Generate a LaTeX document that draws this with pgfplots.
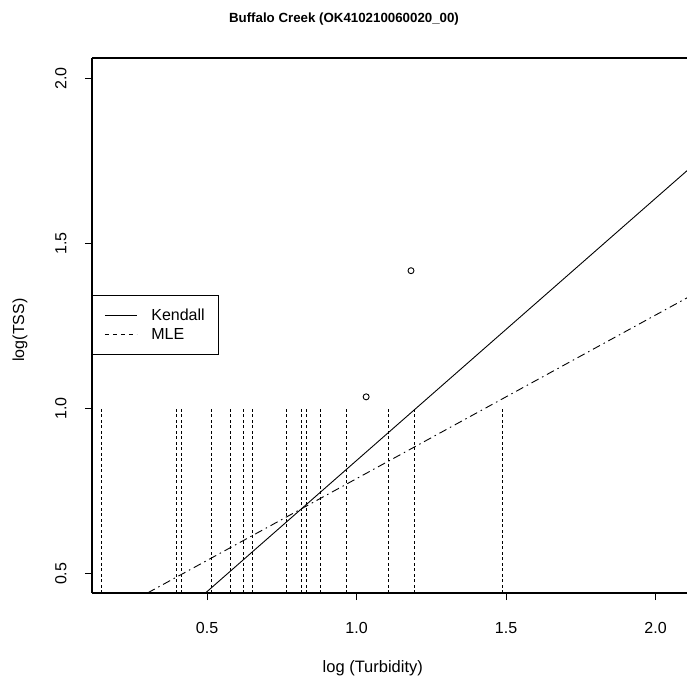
\documentclass[border=0pt]{standalone}
\usepackage{fontspec}
\setmainfont{Liberation Sans}
\usepackage{pgfplots}
\pgfplotsset{compat=1.18}

% censored values, drawn as dotted verticals up to log(TSS)=1
\pgfplotstableread{
x y
0.148 1.0
0.399 1.0
0.415 1.0
0.516 1.0
0.579 1.0
0.621 1.0
0.653 1.0
0.767 1.0
0.814 1.0
0.833 1.0
0.878 1.0
0.965 1.0
1.106 1.0
1.194 1.0
1.488 1.0
}\censored

\begin{document}
\begin{tikzpicture}
\useasboundingbox (-92pt,-88pt) rectangle (595pt,593pt);
\begin{axis}[
    scale only axis,
    width=600pt, height=535pt,
    xmin=0.115, xmax=2.122,
    ymin=0.442, ymax=2.062,
    axis x line*=bottom, axis y line*=left,
    axis line style={line width=1.1pt},
    every outer x axis line/.append style={-},
    every outer y axis line/.append style={-},
    xtick={0.5,1.0,1.5,2.0}, ytick={0.5,1.0,1.5,2.0},
    xticklabels={0.5,1.0,1.5,2.0}, yticklabels={0.5,1.0,1.5,2.0},
    tick align=outside, major tick length=7pt,
    tick style={line width=1pt, black},
    /pgf/number format/assume math mode=true,
    tick label style={font=\fontsize{16}{16}\selectfont},
    xticklabel style={yshift=-19pt},
    yticklabel style={rotate=90, anchor=south, yshift=15pt},
    title={Buffalo Creek (OK410210060020\_00)},
    title style={font=\fontsize{13.3}{13.3}\selectfont\bfseries, at={(axis description cs:0.42,1.062)}, anchor=center},
    xlabel={log (Turbidity)},
    xlabel style={font=\fontsize{16.5}{16.5}\selectfont, at={(axis description cs:0.468,-0.140)}, anchor=center},
    ylabel={log(TSS)},
    ylabel style={font=\fontsize{16}{16}\selectfont, at={(axis description cs:-0.12,0.4916)}, anchor=center, rotate=0},
    clip=true,
    legend style={at={(axis description cs:0,0.557)}, anchor=north west,
        draw=black, line width=0.9pt, font=\fontsize{16}{16}\selectfont,
        inner xsep=12pt, inner ysep=11pt, row sep=3pt},
    legend image code/.code={\draw[#1] (0pt,0pt) -- (32pt,0pt); \path (44pt,0pt);},
    legend cell align=left,
]
\addplot[ycomb, black, line width=0.9pt, dash pattern=on 3pt off 2.5pt, forget plot] table[x=x,y=y] {\censored};
% Kendall line
\addplot[black, line width=0.9pt] coordinates {(0.40,0.367) (2.122,1.734)};
% MLE line
\addplot[black, line width=0.9pt, dash pattern=on 8pt off 4pt on 1.5pt off 4pt,
    legend image post style={dash pattern=on 4pt off 4pt}] coordinates {(0.25,0.417) (2.122,1.344)};
% detected observations
\addplot[only marks, mark=o, mark size=3pt, black, line width=0.9pt, forget plot] coordinates {(1.032,1.036) (1.182,1.418)};
\legend{Kendall, MLE}
\end{axis}
% top border only (R box continues past the right edge)
\draw[line width=1.1pt] (0pt,535pt) -- (610pt,535pt);
\end{tikzpicture}
\end{document}
